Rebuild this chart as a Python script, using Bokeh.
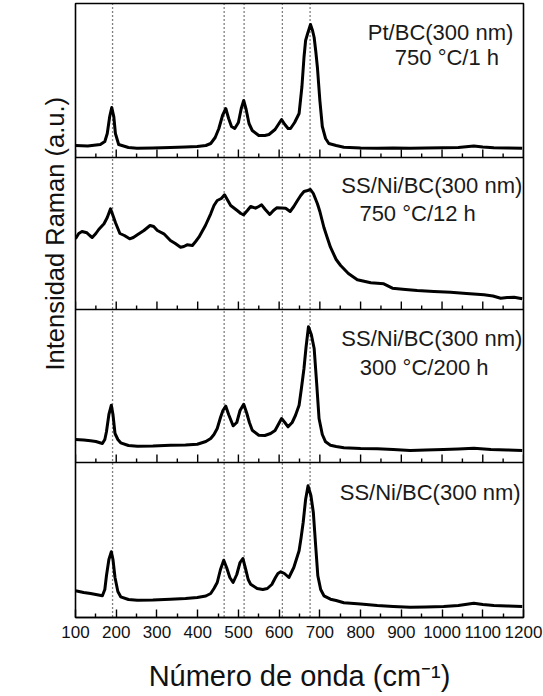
import math
from bokeh.plotting import figure
from bokeh.models import Range1d, Span, Label, FixedTicker, Title
from bokeh.embed import file_html
from bokeh.resources import INLINE

# Raman shift (cm^-1) and intensity (a.u.) for each stacked spectrum, top to bottom
x1 = [100, 130, 161, 172, 178, 184, 189, 194, 198, 206,
      230, 251, 290, 333, 370, 399, 420, 432, 443, 452,
      461, 469, 476, 483, 491, 500, 507, 513, 519, 526,
      534, 550, 565, 575, 590, 598, 606, 614, 622, 628,
      638, 649, 656, 661, 665, 670, 677, 682, 686, 690,
      694, 700, 706, 714, 722, 740, 759, 800, 841, 880,
      922, 960, 1004, 1040, 1078, 1100, 1127, 1160, 1197]
y1 = [11, 10.5, 12, 15, 23, 40, 49, 40, 23, 12,
      9, 8.3, 8.5, 9, 9.5, 10, 11, 13, 19, 28,
      41, 48, 38, 30, 28, 34, 48, 56, 47, 33,
      26, 21, 21, 22, 27, 32, 37, 32, 28, 28,
      34, 43, 70, 99, 116, 123, 132, 126, 119, 105,
      89, 56, 30, 18, 13, 11, 9.3, 8.5, 8.3, 8.5,
      8.3, 8.5, 8.7, 9, 10.5, 9.5, 8.7, 8.5, 8.3]

x2 = [100, 108, 116, 128, 135, 141, 150, 157, 170, 178,
      186, 192, 198, 209, 220, 233, 242, 252, 268, 283,
      292, 301, 317, 333, 345, 358, 366, 374, 387, 395,
      403, 419, 432, 440, 448, 458, 466, 474, 481, 497,
      506, 513, 522, 530, 542, 550, 557, 566, 577, 586,
      594, 605, 616, 627, 636, 645, 653, 661, 670, 677,
      684, 694, 700, 710, 718, 726, 740, 751, 770, 792,
      825, 857, 878, 910, 939, 980, 1021, 1060, 1103, 1125,
      1144, 1160, 1177, 1197]
y2 = [70.7, 76, 78, 76.7, 74, 72, 76, 80, 85.7, 92,
      100.7, 94, 87, 76, 74, 70.7, 72, 74.7, 79, 84,
      83, 79, 75.7, 69, 66, 62.3, 63, 64.7, 64, 68,
      72.3, 84, 95.7, 104, 109, 111, 114.7, 109, 104, 99,
      96, 94.7, 99, 103, 101.3, 103, 104.7, 100, 95, 99,
      101.7, 101.5, 101.3, 98, 103, 109, 114, 118, 119, 120,
      116, 105.7, 98, 82, 72, 62.3, 50, 44, 36, 29.7,
      26.7, 25.7, 21.3, 20, 19, 18, 17.3, 16, 14.7, 13.5,
      11.3, 12, 12.3, 10.7]

x3 = [100, 120, 137, 150, 166, 172, 176, 182, 188, 192,
      197, 204, 211, 230, 252, 290, 333, 370, 399, 420,
      432, 440, 448, 456, 462, 469, 476, 487, 496, 504,
      513, 520, 527, 534, 550, 565, 579, 590, 598, 606,
      614, 622, 632, 640, 649, 655, 661, 666, 672, 679,
      686, 692, 698, 706, 714, 726, 740, 759, 800, 841,
      880, 922, 960, 1004, 1040, 1078, 1120, 1160, 1197]
y3 = [23, 22.5, 21.7, 21, 19, 23, 30.7, 48, 57.3, 48,
      29, 23, 19.7, 17, 16.3, 16.5, 17.3, 17.5, 18.3, 21,
      24, 28, 34, 45, 52, 56.3, 48, 36.7, 40, 52,
      58.3, 50, 40, 32.3, 27.3, 27, 29, 32, 38, 44,
      40, 35.7, 40, 47, 57.3, 75, 94, 115, 135.7, 128,
      114, 80, 44, 28, 20.7, 17.3, 16, 14.7, 14, 13.7,
      13, 12, 12.5, 13, 13.5, 14.3, 13, 12.5, 12]

x4 = [100, 120, 137, 150, 166, 172, 176, 182, 188, 192,
      197, 204, 211, 230, 252, 290, 333, 370, 399, 420,
      432, 440, 448, 456, 464, 471, 479, 487, 496, 504,
      511, 518, 524, 530, 546, 560, 571, 582, 591, 597,
      604, 613, 624, 636, 649, 654, 659, 665, 671, 678,
      684, 690, 695, 702, 710, 726, 740, 759, 800, 841,
      880, 922, 960, 1004, 1040, 1078, 1100, 1127, 1160, 1197]
y4 = [26.7, 25, 24, 23, 21.7, 28, 41.7, 58, 65.7, 58,
      40, 26, 20.7, 18, 17.3, 17.5, 18.3, 19, 20, 21.5,
      24, 29, 35, 48, 57.3, 50, 40, 35, 43, 55,
      59, 48, 38, 33.3, 29, 28, 29, 33, 40, 44,
      45.7, 44, 40, 50, 66.7, 80, 95, 118, 131.7, 122,
      105, 70, 41.7, 28, 21.7, 18.3, 17, 14.7, 13.5, 12,
      11, 10.3, 10.5, 11, 12, 14.3, 13, 12, 11.5, 11]

sample_names = ["Pt/BC(300 nm)", "SS/Ni/BC(300 nm)", "SS/Ni/BC(300 nm)", "SS/Ni/BC(300 nm)"]
treatments = ["750 °C/1 h", "750 °C/12 h", "300 °C/200 h", ""]

# reference band positions (cm^-1)
band_positions = [191, 465, 514, 608, 676]

x_ticks = list(range(100, 1201, 100))
x_minor = list(range(150, 1200, 100))

# vertical offset of each panel in the stack and panel boundaries
offsets = [461, 308, 155, 0]
dividers = [155, 308, 460]
y_top = 614

p = figure(width=543, height=696, output_backend="svg", toolbar_location=None,
           x_range=Range1d(100, 1200), y_range=Range1d(0, y_top),
           min_border_left=75, min_border_right=20, min_border_top=3, min_border_bottom=79)
p.background_fill_color = "white"
p.border_fill_color = "white"
p.outline_line_color = "black"
p.outline_line_width = 1.6
p.grid.visible = False
p.yaxis.visible = False

font = "Liberation Sans"

xa = p.xaxis[0]
xa.ticker = FixedTicker(ticks=x_ticks, minor_ticks=x_minor)
xa.major_tick_in = 8
xa.major_tick_out = 0
xa.minor_tick_in = 4
xa.minor_tick_out = 0
xa.major_tick_line_width = 1.4
xa.minor_tick_line_width = 1.4
xa.axis_line_width = 1.6
xa.major_label_text_font = font
xa.major_label_text_font_size = "17px"
xa.major_label_text_color = "#111111"
xa.major_label_standoff = 8
xa.axis_label = "Número de onda (cm⁻¹)"
xa.axis_label_text_font = font
xa.axis_label_text_font_size = "29px"
xa.axis_label_text_font_style = "normal"
xa.axis_label_text_color = "#111111"
xa.axis_label_standoff = 19

# band markers
for bp in band_positions:
    p.add_layout(Span(location=bp, dimension="height", line_color="black",
                      line_width=1.3, line_dash="1 3"))

# panel boundaries with inward ticks
for d in dividers:
    p.add_layout(Span(location=d, dimension="width", line_color="black", line_width=1.6))
    p.segment(x0=x_ticks, y0=[d] * len(x_ticks), x1=x_ticks, y1=[d + 8] * len(x_ticks),
              line_color="black", line_width=1.4)
    p.segment(x0=x_minor, y0=[d] * len(x_minor), x1=x_minor, y1=[d + 4] * len(x_minor),
              line_color="black", line_width=1.4)

# spectra
for xs, ys, off in zip([x1, x2, x3, x4], [y1, y2, y3, y4], offsets):
    p.line(xs, [v + off for v in ys], line_color="black", line_width=3, line_join="round")

# sample annotations
name_pos = [(1175, 585), (1197, 432), (1197, 279), (1193, 125)]
treat_pos = [(1012, 560), (940, 404), (956, 250), (0, 0)]
for name, (nx, ny) in zip(sample_names, name_pos):
    p.add_layout(Label(x=nx, y=ny, text=name, text_align="right", text_baseline="middle",
                       text_font=font, text_font_size="22px", text_color="#1a1a1a"))
for tr, (tx, ty) in zip(treatments, treat_pos):
    if tr:
        p.add_layout(Label(x=tx, y=ty, text=tr, text_align="center", text_baseline="middle",
                           text_font=font, text_font_size="22px", text_color="#1a1a1a"))

# vertical title in the left margin, raised along the side
ytitle = Title(text="Intensidad Raman (a.u.)", align="left", offset=247, vertical_align="top",
               text_font=font, text_font_size="25.5px", text_font_style="normal",
               text_color="#111111", standoff=10)
p.add_layout(ytitle, "left")

open("out.html", "w").write(file_html(p, INLINE))
